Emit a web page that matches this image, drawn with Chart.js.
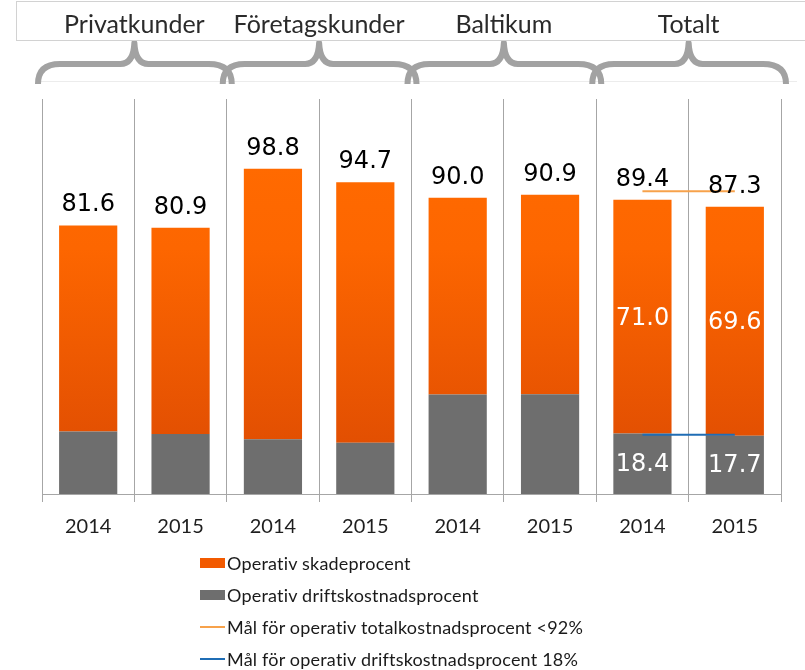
<!DOCTYPE html>
<html>
<head>
<meta charset="utf-8">
<script src="https://cdn.jsdelivr.net/npm/chart.js@4"></script>
<style>
  html, body { margin: 0; padding: 0; background: #fff; }
  #wrap { position: relative; width: 805px; height: 670px; overflow: hidden; }
  #c { position: absolute; left: 0; top: 0; }
  #hdr { position: absolute; left: 16px; top: 1px; width: 820px; height: 40px; border: 1px solid #d2d2d2; border-right: none; box-sizing: border-box; }
  .ht { position: absolute; top: 3px; font-family: Lato, "Open Sans", sans-serif; font-size: 25px; color: #2b2b2b; transform: translateX(-50%); white-space: nowrap; line-height: 36px; }
  #legend { position: absolute; left: 200px; top: 548px; font-family: Lato, "Open Sans", sans-serif; font-size: 18px; color: #1a1a1a; }
  .li { position: relative; height: 32px; line-height: 30px; padding-left: 27px; white-space: nowrap; letter-spacing: 0.2px; }
  .sw { position: absolute; left: 0; top: 10px; width: 25px; height: 10px; }
  .ln { position: absolute; left: 0; top: 14px; width: 25px; height: 2px; }
</style>
</head>
<body>
<div id="wrap">
  <canvas id="c" width="805" height="670"></canvas>
  <div id="hdr"></div>
  <div id="legend"></div>
</div>
<script>
// ---- data ----
const groups = ["Privatkunder", "Företagskunder", "Baltikum", "Totalt"];
const years = ["2014", "2015", "2014", "2015", "2014", "2015", "2014", "2015"];
const skadeprocent = [62.6, 62.7, 82.2, 79.1, 59.8, 60.6, 71.0, 69.6];
const driftskostnad = [19.0, 18.2, 16.6, 15.6, 30.2, 30.3, 18.4, 17.7];
const totalLabels = [81.6, 80.9, 98.8, 94.7, 90.0, 90.9, 89.4, 87.3];
const targetTotal = [null, null, null, null, null, null, 92, 92];
const targetDrift = [null, null, null, null, null, null, 18, 18];
const seriesNames = [
  "Operativ skadeprocent",
  "Operativ driftskostnadsprocent",
  "Mål för operativ totalkostnadsprocent <92%",
  "Mål för operativ driftskostnadsprocent 18%"
];
const innerLabelIdx = [6, 7];

const ORANGE = "#fa6400", GRAY = "#6e6e6e", LORANGE = "#f7a24b", BLUE = "#1f6db5";

const ctx = document.getElementById("c").getContext("2d");

function orangeFill(context) {
  const chart = context.chart;
  const area = chart.chartArea;
  if (!area) return ORANGE;
  const y = chart.scales.y;
  const g = chart.ctx.createLinearGradient(0, y.getPixelForValue(100), 0, y.getPixelForValue(15));
  g.addColorStop(0, "#ff6a00");
  g.addColorStop(0.3, "#fd6600");
  g.addColorStop(1, "#e24f02");
  return g;
}

const bracePlugin = {
  id: "braces",
  beforeDraw(chart) {
    const c = chart.ctx, x = chart.scales.x, top = chart.chartArea.top;
    const step = x.getPixelForValue(1) - x.getPixelForValue(0);
    c.save();
    c.strokeStyle = "#ececec"; c.lineWidth = 1;
    c.beginPath(); c.moveTo(38, top - 17.5); c.lineTo(797, top - 17.5); c.stroke();
    c.strokeStyle = "#a2a2a2"; c.lineWidth = 6; c.lineJoin = "round";
    for (let g = 0; g < groups.length; g++) {
      const L = x.getPixelForValue(2 * g) - step / 2;
      const R = x.getPixelForValue(2 * g + 1) + step / 2;
      const C = (L + R) / 2;
      const yEnd = top - 15, yMid = top - 35, yTip = top - 56;
      c.beginPath();
      c.moveTo(L - 4, yEnd);
      c.quadraticCurveTo(L - 4, yMid, L + 18, yMid);
      c.lineTo(C - 14, yMid);
      c.quadraticCurveTo(C - 1, yMid, C, yTip);
      c.quadraticCurveTo(C + 1, yMid, C + 14, yMid);
      c.lineTo(R - 18, yMid);
      c.quadraticCurveTo(R + 5, yMid, R + 5, yEnd);
      c.stroke();
    }
    c.restore();
  }
};

const labelPlugin = {
  id: "vals",
  afterDatasetsDraw(chart) {
    const c = chart.ctx;
    const metaO = chart.getDatasetMeta(3), metaG = chart.getDatasetMeta(2);
    c.save();
    c.font = "24px 'DejaVu Sans', sans-serif";
    c.textAlign = "center";
    for (let i = 0; i < totalLabels.length; i++) {
      const el = metaO.data[i];
      c.fillStyle = "#000";
      c.textBaseline = "alphabetic";
      c.fillText(totalLabels[i].toFixed(1), el.x, el.y - 14);
    }
    c.fillStyle = "#fff";
    c.textBaseline = "middle";
    for (const i of innerLabelIdx) {
      const eo = metaO.data[i], eg = metaG.data[i];
      c.fillText(skadeprocent[i].toFixed(1), eo.x, (eo.y + eo.base) / 2 + 2);
      c.fillText(driftskostnad[i].toFixed(1), eg.x, (eg.y + eg.base) / 2 + 1);
    }
    c.restore();
  }
};

const chart = new Chart(ctx, {
  type: "bar",
  data: {
    labels: years,
    datasets: [
      { type: "line", label: seriesNames[2], data: targetTotal, borderColor: LORANGE, borderWidth: 2, pointRadius: 0, stack: "t1", order: 0, spanGaps: false },
      { type: "line", label: seriesNames[3], data: targetDrift, borderColor: BLUE, borderWidth: 2, pointRadius: 0, stack: "t2", order: 0, spanGaps: false },
      { label: seriesNames[1], data: driftskostnad, backgroundColor: GRAY, stack: "bars", order: 1, categoryPercentage: 1, barPercentage: 0.63 },
      { label: seriesNames[0], data: skadeprocent, backgroundColor: orangeFill, stack: "bars", order: 1, categoryPercentage: 1, barPercentage: 0.63 }
    ]
  },
  options: {
    responsive: false,
    animation: false,
    layout: { padding: { top: 99, left: 42, right: 24, bottom: 118 } },
    plugins: { legend: { display: false }, tooltip: { enabled: false } },
    scales: {
      x: {
        stacked: true,
        grid: { display: true, offset: true, color: "#a6a6a6", lineWidth: 1, tickLength: 8, drawTicks: true },
        border: { display: true, color: "#a6a6a6" },
        ticks: { color: "#1e1e1e", font: { family: "Lato", size: 20 }, padding: 13 }
      },
      y: {
        stacked: true, display: false, min: 0, max: 120
      }
    }
  },
  plugins: [bracePlugin, labelPlugin]
});

// header texts over groups
const hdr = document.getElementById("hdr");
const xs = chart.scales.x;
groups.forEach((g, k) => {
  const cx = (xs.getPixelForValue(2 * k) + xs.getPixelForValue(2 * k + 1)) / 2;
  const d = document.createElement("div");
  d.className = "ht";
  d.textContent = g;
  d.style.left = (cx - 16 - 1) + "px";
  hdr.appendChild(d);
});

// legend
const legend = document.getElementById("legend");
const legendItems = [
  { name: seriesNames[0], kind: "sw", color: "#f25a00" },
  { name: seriesNames[1], kind: "sw", color: GRAY },
  { name: seriesNames[2], kind: "ln", color: LORANGE },
  { name: seriesNames[3], kind: "ln", color: BLUE }
];
legendItems.forEach(it => {
  const row = document.createElement("div");
  row.className = "li";
  const m = document.createElement("span");
  m.className = it.kind;
  m.style.background = it.color;
  row.appendChild(m);
  row.appendChild(document.createTextNode(it.name));
  legend.appendChild(row);
});
</script>
</body>
</html>
